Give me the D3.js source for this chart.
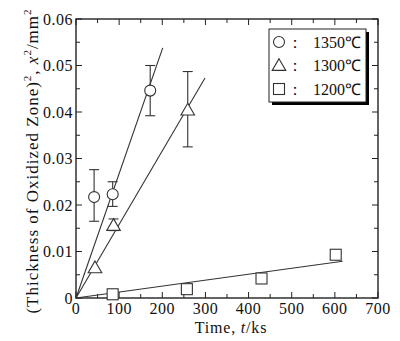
<!DOCTYPE html>
<html>
<head>
<meta charset="utf-8">
<script src="https://cdn.jsdelivr.net/npm/d3@7"></script>
<style>
  body { margin: 0; background: #fff; }
  svg text { font-family: "Liberation Serif", "Times New Roman", serif; fill: #111; }
</style>
</head>
<body>
<svg id="chart" width="400" height="341"></svg>
<script>
// data
let series1350_t = [42, 85, 172]
let series1350_y = [0.0217, 0.0223, 0.0446]
let series1350_lo = [0.0165, 0.0197, 0.0392]
let series1350_hi = [0.0276, 0.0250, 0.0500]
let fit1350 = [[0, 0], [201, 0.0538]]

let series1300_t = [44, 87, 259]
let series1300_y = [0.0065, 0.0156, 0.0404]
let series1300_lo = [null, 0.0145, 0.0325]
let series1300_hi = [null, 0.0170, 0.0487]
let fit1300 = [[0, 0], [299, 0.0473]]

let series1200_t = [85, 257, 430, 602]
let series1200_y = [0.0008, 0.0019, 0.0042, 0.0093]
let fit1200 = [[0, 0], [618, 0.0079]]

let xTicks = [0, 100, 200, 300, 400, 500, 600, 700]
let yTicks = [0, 0.01, 0.02, 0.03, 0.04, 0.05, 0.06]
let legendLabels = ["1350℃", "1300℃", "1200℃"]

let svg = d3.select("#chart")
let margin = {left: 76, top: 19, right: 22, bottom: 43}
let width = 400 - margin.left - margin.right
let height = 341 - margin.top - margin.bottom

let xScale = d3.scaleLinear([0, 700], [margin.left, margin.left + width])
let yScale = d3.scaleLinear([0, 0.06], [margin.top + height, margin.top])

let ink = "#222"

// frame
svg.append("rect")
    .attr("x", margin.left).attr("y", margin.top)
    .attr("width", width).attr("height", height)
    .attr("fill", "none").attr("stroke", ink).attr("stroke-width", 1.4)

// ticks, inside, every 50 / 0.005 with majors longer
let xMinor = d3.range(0, 701, 50)
let yMinor = d3.range(0, 0.0601, 0.005)
let tg = svg.append("g").attr("stroke", ink).attr("stroke-width", 1)
xMinor.forEach((v, i) => {
    let len = i % 2 === 0 ? 6 : 4
    let x = xScale(v)
    tg.append("line").attr("x1", x).attr("x2", x).attr("y1", yScale(0)).attr("y2", yScale(0) - len)
    tg.append("line").attr("x1", x).attr("x2", x).attr("y1", yScale(0.06)).attr("y2", yScale(0.06) + len)
})
yMinor.forEach((v, i) => {
    let len = i % 2 === 0 ? 6 : 4
    let y = yScale(v)
    tg.append("line").attr("x1", xScale(0)).attr("x2", xScale(0) + len).attr("y1", y).attr("y2", y)
    tg.append("line").attr("x1", xScale(700)).attr("x2", xScale(700) - len).attr("y1", y).attr("y2", y)
})

// tick labels
svg.selectAll(".xl").data(xTicks).enter().append("text")
    .attr("x", d => xScale(d)).attr("y", yScale(0) + 16)
    .attr("text-anchor", "middle").attr("font-size", 16).attr("letter-spacing", 0.5)
    .text(d => d)
svg.selectAll(".yl").data(yTicks).enter().append("text")
    .attr("x", xScale(0) - 3).attr("y", d => yScale(d) + 5.5)
    .attr("text-anchor", "end").attr("font-size", 16).attr("letter-spacing", 0.5)
    .text(d => d === 0 ? "0" : d.toFixed(2))

// axis titles
let xt = svg.append("text").attr("x", 231).attr("y", 333).attr("text-anchor", "middle")
    .attr("font-size", 16).attr("letter-spacing", 0.8)
xt.append("tspan").text("Time,  ")
xt.append("tspan").attr("font-style", "italic").text("t")
xt.append("tspan").text("/ks")

let yt = svg.append("text").attr("transform", "translate(38,161) rotate(-90)")
    .attr("text-anchor", "middle").attr("font-size", 17).attr("letter-spacing", 1)
yt.append("tspan").text("(Thickness of Oxidized Zone)")
yt.append("tspan").attr("font-size", 11).attr("dy", -7).text("2")
yt.append("tspan").attr("dy", 7).text(", ")
yt.append("tspan").attr("font-style", "italic").text("x")
yt.append("tspan").attr("font-size", 11).attr("dy", -7).text("2")
yt.append("tspan").attr("dy", 7).text("/mm")
yt.append("tspan").attr("font-size", 11).attr("dy", -7).text("2")

// fit lines
let line = d3.line().x(d => xScale(d[0])).y(d => yScale(d[1]))
;[fit1350, fit1300, fit1200].forEach(f => {
    svg.append("path").attr("d", line(f)).attr("fill", "none").attr("stroke", "#333").attr("stroke-width", 1.1)
})

// error bars
function errorBars(ts, lo, hi) {
    ts.forEach((t, i) => {
        if (lo[i] === null) return
        let x = xScale(t)
        let g = svg.append("g").attr("stroke", "#333").attr("stroke-width", 1.1)
        g.append("line").attr("x1", x).attr("x2", x).attr("y1", yScale(lo[i])).attr("y2", yScale(hi[i]))
        g.append("line").attr("x1", x - 5).attr("x2", x + 5).attr("y1", yScale(lo[i])).attr("y2", yScale(lo[i]))
        g.append("line").attr("x1", x - 5).attr("x2", x + 5).attr("y1", yScale(hi[i])).attr("y2", yScale(hi[i]))
    })
}
errorBars(series1350_t, series1350_lo, series1350_hi)
errorBars(series1300_t, series1300_lo, series1300_hi)

let markStyle = g => g.attr("fill", "#fff").attr("stroke", "#333").attr("stroke-width", 1.1)

series1350_t.forEach((t, i) => {
    svg.append("circle").attr("cx", xScale(t)).attr("cy", yScale(series1350_y[i])).attr("r", 5.5).call(markStyle)
})
let tri = d3.symbol(d3.symbolTriangle, 80)
series1300_t.forEach((t, i) => {
    svg.append("path").attr("d", tri()).attr("transform", `translate(${xScale(t)},${yScale(series1300_y[i]) + 1})`).call(markStyle)
})
series1200_t.forEach((t, i) => {
    svg.append("rect").attr("x", xScale(t) - 5.5).attr("y", yScale(series1200_y[i]) - 5.5)
        .attr("width", 11).attr("height", 11).call(markStyle)
})

// legend
let lx = 269, ly = 29, lw = 97, lh = 73
svg.append("rect").attr("x", lx + 3).attr("y", ly + 3).attr("width", lw).attr("height", lh).attr("fill", "#000")
svg.append("rect").attr("x", lx).attr("y", ly).attr("width", lw).attr("height", lh)
    .attr("fill", "#fff").attr("stroke", ink).attr("stroke-width", 1)

legendLabels.forEach((lab, i) => {
    let cy = ly + 13 + i * 23.5
    let sx = lx + 10
    if (i === 0) svg.append("circle").attr("cx", sx).attr("cy", cy).attr("r", 5.5).call(markStyle)
    if (i === 1) svg.append("path").attr("d", tri()).attr("transform", `translate(${sx},${cy + 1})`).call(markStyle)
    if (i === 2) svg.append("rect").attr("x", sx - 5.5).attr("y", cy - 5.5).attr("width", 11).attr("height", 11).call(markStyle)
    svg.append("text").attr("x", sx + 8).attr("y", cy + 5.5).attr("font-size", 16).text("：")
    svg.append("text").attr("x", lx + lw - 5).attr("y", cy + 5.5).attr("text-anchor", "end").attr("font-size", 16).text(lab)
})
</script>
</body>
</html>
